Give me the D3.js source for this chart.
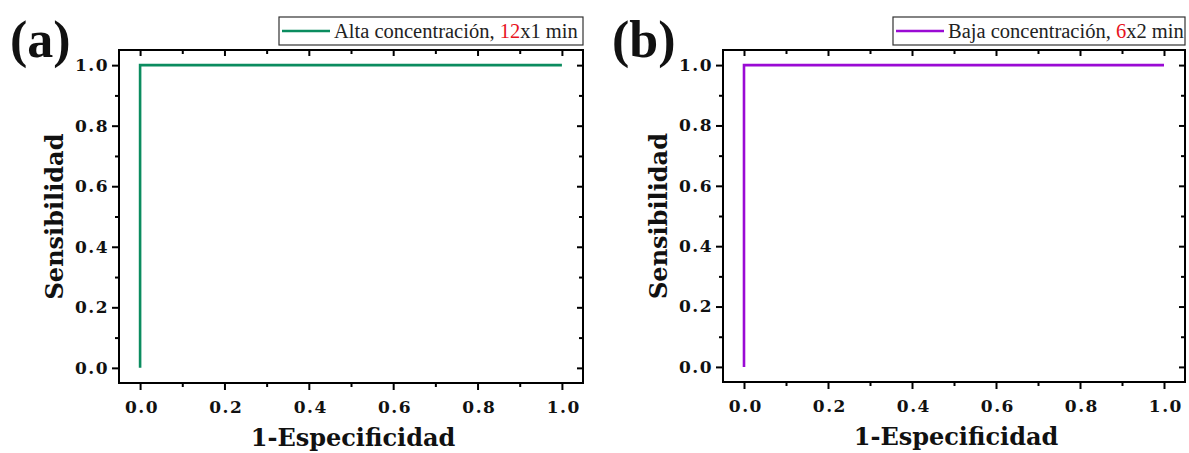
<!DOCTYPE html>
<html><head><meta charset="utf-8">
<script src="https://cdn.jsdelivr.net/npm/d3@7"></script>
<style>body{margin:0;background:#fff;} svg{display:block;}</style>
</head><body>
<svg id="c" width="1189" height="453"></svg>
<script>
const fprA = [0, 0, 1];
const tprA = [0, 1, 1];
const fprB = [0, 0, 1];
const tprB = [0, 1, 1];
const majorTicks = [0, 0.2, 0.4, 0.6, 0.8, 1.0];
const minorTicks = [0.1, 0.3, 0.5, 0.7, 0.9];
const tickLabels = ["0.0", "0.2", "0.4", "0.6", "0.8", "1.0"];
const legendA = ["Alta concentración, ", "12", "x1 min"];
const legendB = ["Baja concentración, ", "6", "x2 min"];

const svg = d3.select("#c");
const serif = "'DejaVu Serif', serif";

function panel(o) {
  const x = d3.scaleLinear().domain([-0.05, 1.05]).range([o.left, o.right]);
  const y = d3.scaleLinear().domain([-0.05, 1.05]).range([o.bottom, o.top]);
  const g = svg.append("g");
  const fmt = (d) => tickLabels[majorTicks.indexOf(d)];
  function ax(gen, tr, vals, size, labels) {
    const a = g.append("g").attr("transform", tr)
      .call(gen.tickValues(vals).tickSize(size).tickSizeOuter(0).tickFormat(labels ? fmt : () => ""));
    a.select(".domain").remove();
    a.selectAll("line").attr("stroke", "#000").attr("stroke-width", 2);
    a.selectAll("text").attr("font-family", serif).attr("font-weight", "bold").attr("font-size", 17)
      .attr("letter-spacing", "1.5px").attr("fill", "#111");
    return a;
  }
  const bx = ax(d3.axisBottom(x), `translate(0,${o.bottom})`, majorTicks, 7, true);
  bx.selectAll("text").attr("dy", "1.2em").attr("dx", "0.08em");
  ax(d3.axisBottom(x), `translate(0,${o.bottom})`, minorTicks, 4, false);
  ax(d3.axisBottom(x), `translate(0,${o.top})`, majorTicks, 6, false);
  ax(d3.axisBottom(x), `translate(0,${o.top})`, minorTicks, 4, false);
  const ly = ax(d3.axisLeft(y), `translate(${o.left},0)`, majorTicks, 7, true);
  ly.selectAll("text").attr("dx", "0em");
  ax(d3.axisLeft(y), `translate(${o.left},0)`, minorTicks, 4, false);
  ax(d3.axisLeft(y), `translate(${o.right},0)`, majorTicks, 6, false);
  ax(d3.axisLeft(y), `translate(${o.right},0)`, minorTicks, 4, false);

  g.append("rect").attr("x", o.left).attr("y", o.top)
    .attr("width", o.right - o.left).attr("height", o.bottom - o.top)
    .attr("fill", "none").attr("stroke", "#000").attr("stroke-width", 2);

  const pts = o.fpr.map((d, i) => [d, o.tpr[i]]);
  g.append("path").datum(pts)
    .attr("d", d3.line().x(d => x(d[0])).y(d => y(d[1])))
    .attr("fill", "none").attr("stroke", o.color).attr("stroke-width", 2.6);

  g.append("text").attr("x", (o.left + o.right) / 2 + 2).attr("y", o.bottom + 63)
    .attr("text-anchor", "middle").attr("font-family", serif).attr("font-weight", "bold")
    .attr("font-size", 24).attr("fill", "#111").text("1-Especificidad");
  g.append("text").attr("transform", `translate(${o.left - 56},${(o.top + o.bottom) / 2}) rotate(-90)`)
    .attr("text-anchor", "middle").attr("font-family", serif).attr("font-weight", "bold")
    .attr("font-size", 24).attr("fill", "#111").text("Sensibilidad");

  g.append("text").attr("x", o.labelX).attr("y", 57)
    .attr("font-family", "'Liberation Serif', serif").attr("font-weight", "bold")
    .attr("font-size", 52).attr("fill", "#111").text(o.label);

  const lg = g.append("g");
  lg.append("rect").attr("x", o.legX).attr("y", 17).attr("width", o.right - o.legX).attr("height", 28)
    .attr("fill", "#fff").attr("stroke", "#333").attr("stroke-width", 1.2);
  lg.append("line").attr("x1", o.legX + 3).attr("x2", o.legX + 51).attr("y1", 31).attr("y2", 31)
    .attr("stroke", o.color).attr("stroke-width", 2.6);
  const t = lg.append("text").attr("x", o.legX + 55).attr("y", 38)
    .attr("font-family", "'Liberation Serif', serif").attr("font-size", 20.5).attr("fill", "#222");
  t.append("tspan").text(o.legend[0]);
  t.append("tspan").attr("fill", "#e8141e").text(o.legend[1]);
  t.append("tspan").text(o.legend[2]);
}

panel({left: 119, right: 583, top: 50, bottom: 383, fpr: fprA, tpr: tprA, color: "#0b8c5f",
       label: "(a)", labelX: 10, legX: 279, legend: legendA});
panel({left: 723, right: 1185, top: 50, bottom: 382, fpr: fprB, tpr: tprB, color: "#9a0ad4",
       label: "(b)", labelX: 612, legX: 893, legend: legendB});
</script>
</body></html>
